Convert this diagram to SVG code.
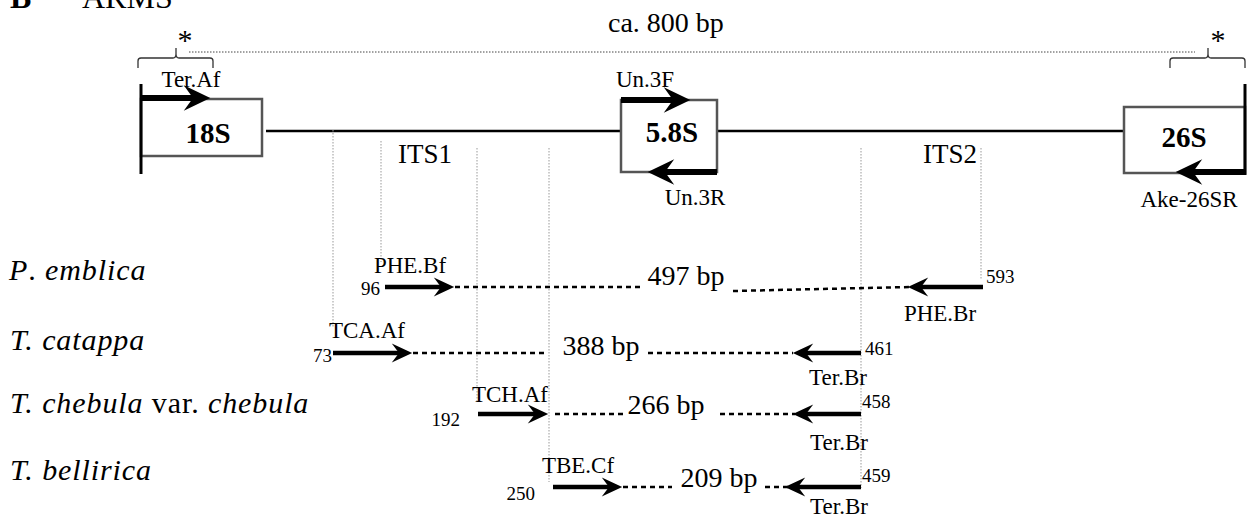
<svg xmlns="http://www.w3.org/2000/svg" width="1250" height="519" viewBox="0 0 1250 519" font-family="'Liberation Serif', 'DejaVu Serif', serif">
  <style>
    text { font-family: 'Liberation Serif', 'DejaVu Serif', serif; fill: #000; }
    .title { font-size: 32px; }
    .gene { font-size: 29px; font-weight: bold; }
    .primer { font-size: 23px; }
    .region { font-size: 27px; }
    .size { font-size: 28px; }
    .pos { font-size: 19px; }
    .species { font-size: 30px; font-style: italic; letter-spacing: 0.9px; }
    .box { fill: #fff; stroke: #555; stroke-width: 2.5; }
    .spine { stroke: #000; stroke-width: 2.5; fill: none; }
    .edge { stroke: #000; stroke-width: 3; }
    .bigArrow { stroke: #000; stroke-width: 6; marker-end: url(#headL); }
    .smallArrow { stroke: #000; stroke-width: 4.5; marker-end: url(#headS); }
    .dash { stroke: #000; stroke-width: 2.5; stroke-dasharray: 5 4; fill: none; }
    .guide { stroke: #999; stroke-width: 1; stroke-dasharray: 1.5 1.5; fill: none; }
    .span { stroke: #444; stroke-width: 1; stroke-dasharray: 1.5 1.5; fill: none; }
    .brace { stroke: #333; stroke-width: 1.3; fill: none; }
  </style>
  <defs>
    <!-- barbed arrowheads; origin sits at the notch so the shaft ends there -->
    <marker id="headL" markerUnits="userSpaceOnUse" orient="auto" markerWidth="40" markerHeight="30" viewBox="-10 -13 30 26" refX="0" refY="0" overflow="visible">
      <path d="M-8,-11 L15,0 L-8,11 L0,0 Z" fill="#000"/>
    </marker>
    <marker id="headS" markerUnits="userSpaceOnUse" orient="auto" markerWidth="30" markerHeight="24" viewBox="-8 -10 24 20" refX="0" refY="0" overflow="visible">
      <path d="M-6,-8 L11,0 L-6,8 L0,0 Z" fill="#000"/>
    </marker>
  </defs>

  <rect width="1250" height="519" fill="#fff"/>

  <!-- panel heading, running off the top edge -->
  <g id="heading">
    <text class="title" x="10" y="8" font-weight="bold">B</text>
    <text class="title" x="82" y="8">ARMS</text>
  </g>

  <!-- amplicon span over the whole rDNA unit -->
  <g id="span">
    <path class="span" d="M189,52 H1195"/>
    <text class="size" x="608" y="32">ca. 800 bp</text>
    <path class="brace" d="M138,68 V61 Q138,58 141,58 H173 Q176,58 176,54 V48 M176,54 Q176,58 179,58 H210 Q213,58 213,61 V68"/>
    <text x="185" y="50" font-size="30" text-anchor="middle">*</text>
    <path class="brace" d="M1170,68 V61 Q1170,58 1173,58 H1205 Q1208,58 1208,54 V48 M1208,54 Q1208,58 1211,58 H1242 Q1245,58 1245,61 V68"/>
    <text x="1218" y="50" font-size="30" text-anchor="middle">*</text>
  </g>

  <!-- connectors: spacer backbone and guide lines -->
  <g id="connectors">
    <path class="spine" d="M266,131 H621"/>
    <path class="spine" d="M717,131 H1124"/>
    <path class="guide" d="M333,130 V328"/>
    <path class="guide" d="M381,141 V262"/>
    <path class="guide" d="M477,148 V403"/>
    <path class="guide" d="M549,148 V482"/>
    <path class="guide" d="M861,148 V488"/>
    <path class="guide" d="M981,148 V279"/>
  </g>

  <g id="node-18S">
    <rect class="box" x="141" y="99" width="121" height="57"/>
    <path class="edge" d="M141,84 V174"/>
    <text class="gene" x="208" y="143" text-anchor="middle">18S</text>
    <path class="bigArrow" d="M141,98 H193"/>
    <text class="primer" x="191" y="87" text-anchor="middle">Ter.Af</text>
  </g>

  <g id="node-58S">
    <rect class="box" x="621" y="100" width="96" height="72"/>
    <text class="gene" x="672" y="142" text-anchor="middle">5.8S</text>
    <path class="bigArrow" d="M621,100 H673"/>
    <text class="primer" x="645" y="87" text-anchor="middle">Un.3F</text>
    <path class="bigArrow" d="M717,172 H665"/>
    <text class="primer" x="695" y="205" text-anchor="middle">Un.3R</text>
  </g>

  <g id="node-26S">
    <rect class="box" x="1124" y="107" width="121" height="66"/>
    <path class="edge" d="M1245,84 V175"/>
    <text class="gene" x="1184" y="147" text-anchor="middle">26S</text>
    <path class="bigArrow" d="M1245,172 H1193"/>
    <text class="primer" x="1189" y="207" text-anchor="middle">Ake-26SR</text>
  </g>

  <g id="region-its">
    <text class="region" x="425" y="163" text-anchor="middle">ITS1</text>
    <text class="region" x="950" y="163" text-anchor="middle">ITS2</text>
  </g>

  <g id="row-p-emblica">
    <text class="species" x="9" y="280">P<tspan font-style="normal">.</tspan> emblica</text>
    <text class="pos" x="380" y="295" text-anchor="end">96</text>
    <text class="primer" x="410" y="273" text-anchor="middle">PHE.Bf</text>
    <path class="smallArrow" d="M385,287 H441"/>
    <path class="dash" d="M455,287 H640"/>
    <text class="size" x="686" y="285" text-anchor="middle">497 bp</text>
    <path class="dash" d="M733,291 L910,287"/>
    <path class="smallArrow" d="M983,287 H921"/>
    <text class="pos" x="986" y="283">593</text>
    <text class="primer" x="940" y="321" text-anchor="middle">PHE.Br</text>
  </g>

  <g id="row-t-catappa">
    <text class="species" x="10" y="350">T. catappa</text>
    <text class="pos" x="332" y="362" text-anchor="end">73</text>
    <text class="primer" x="367" y="338" text-anchor="middle">TCA.Af</text>
    <path class="smallArrow" d="M333,353 H399"/>
    <path class="dash" d="M413,353 H548"/>
    <text class="size" x="601" y="355" text-anchor="middle">388 bp</text>
    <path class="dash" d="M648,353 H793"/>
    <path class="smallArrow" d="M861,353 H806"/>
    <text class="pos" x="865" y="355">461</text>
    <text class="primer" x="838" y="385" text-anchor="middle">Ter.Br</text>
  </g>

  <g id="row-t-chebula">
    <text class="species" x="10" y="413">T. chebula<tspan font-style="normal"> var. </tspan>chebula</text>
    <text class="pos" x="460" y="426" text-anchor="end">192</text>
    <text class="primer" x="510" y="402" text-anchor="middle">TCH.Af</text>
    <path class="smallArrow" d="M478,414 H535"/>
    <path class="dash" d="M555,414 H625"/>
    <text class="size" x="666" y="414" text-anchor="middle">266 bp</text>
    <path class="dash" d="M720,414 H795"/>
    <path class="smallArrow" d="M861,414 H806"/>
    <text class="pos" x="862" y="408">458</text>
    <text class="primer" x="839" y="450" text-anchor="middle">Ter.Br</text>
  </g>

  <g id="row-t-bellirica">
    <text class="species" x="10" y="480">T. bellirica</text>
    <text class="pos" x="535" y="500" text-anchor="end">250</text>
    <text class="primer" x="578" y="473" text-anchor="middle">TBE.Cf</text>
    <path class="smallArrow" d="M553,487 H609"/>
    <path class="dash" d="M623,487 H672"/>
    <text class="size" x="719" y="487" text-anchor="middle">209 bp</text>
    <path class="dash" d="M765,487 H789"/>
    <path class="smallArrow" d="M861,487 H798"/>
    <text class="pos" x="862" y="482">459</text>
    <text class="primer" x="839" y="514" text-anchor="middle">Ter.Br</text>
  </g>
</svg>
